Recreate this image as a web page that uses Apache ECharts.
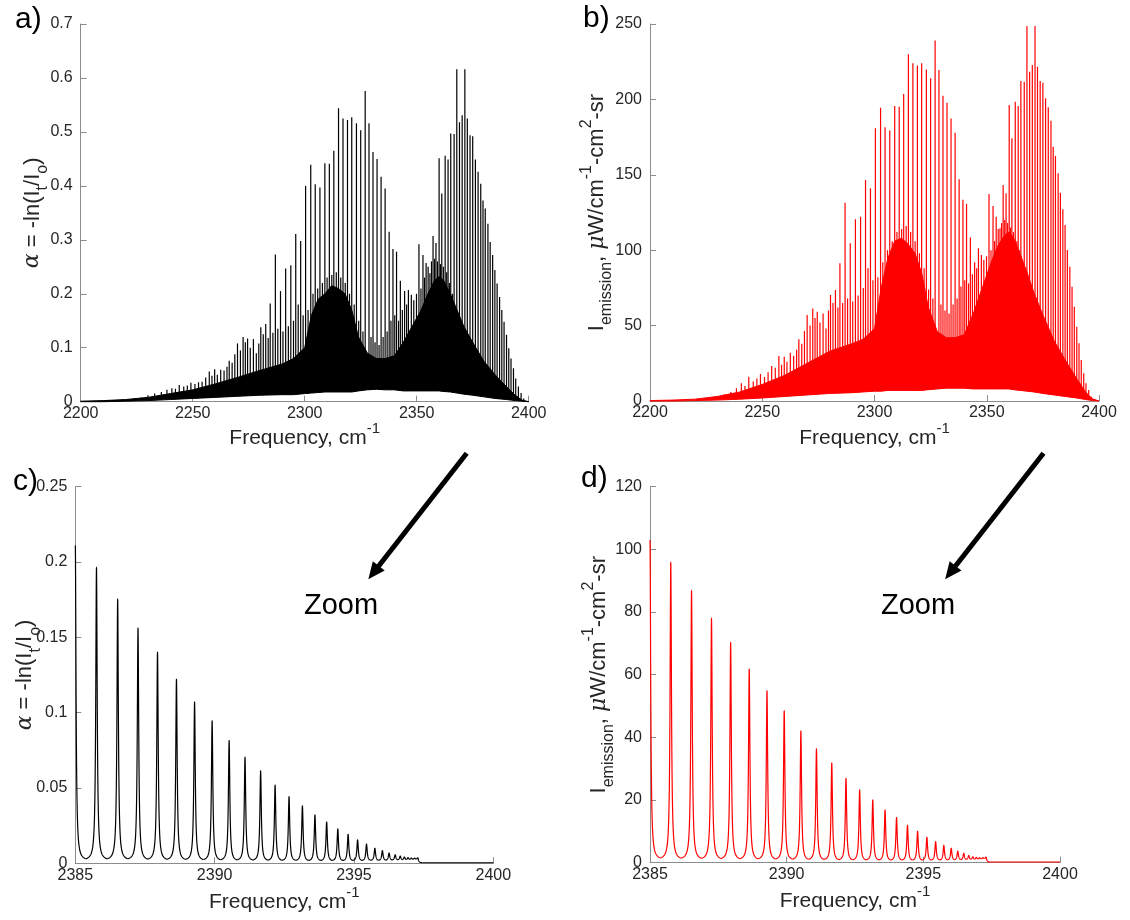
<!DOCTYPE html>
<html><head><meta charset="utf-8">
<script src="https://cdn.jsdelivr.net/npm/echarts@6/dist/echarts.min.js"></script>
<style>html,body{margin:0;padding:0;background:#fff}#chart{width:1130px;height:920px}</style>
</head><body><div id="chart"></div>
<script>
// ---------------- DATA ----------------
// Panels a / b : strong rotational lines (cm-1) and their heights
const strongX = [2284.6,2286.9,2289.2,2291.5,2293.8,2296.0,2298.2,2300.4,2302.7,2304.7,2306.8,2309.0,2311.0,2313.0,2315.1,2317.1,2319.1,2321.0,2323.1,2325.0,2327.0,2328.7,2330.5,2332.3,2334.1,2335.9,2337.7,2339.4,2341.0,2342.7,2344.6,2346.3,2347.6,2348.7,
  2351.0,2352.8,2354.2,2355.9,2357.3,2358.6,2360.0,2361.2,2362.7,2364.0,2365.2,2366.7,2367.9,2369.1,2370.3,2371.5,2372.6,2373.8,2375.0,2376.2,2377.4,2378.6,2379.6,2380.6,2381.8,2382.8,2383.9,2384.9,2385.9,2387.0,2388.0,2389.0,2390.1,2391.1,2392.1,2393.2,2394.2,2395.4,2396.6,2397.8];
const aStrongY = [0.182,0.273,0.205,0.247,0.253,0.311,0.298,0.400,0.439,0.403,0.397,0.442,0.441,0.465,0.544,0.525,0.522,0.527,0.516,0.503,0.576,0.516,0.463,0.450,0.417,0.395,0.315,0.283,0.278,0.224,0.205,0.207,0.198,0.188,
  0.292,0.272,0.257,0.238,0.307,0.294,0.451,0.386,0.456,0.449,0.497,0.496,0.616,0.518,0.531,0.616,0.525,0.494,0.492,0.449,0.426,0.404,0.373,0.358,0.330,0.296,0.272,0.244,0.219,0.194,0.170,0.148,0.124,0.099,0.080,0.062,0.043,0.028,0.016,0.006];
const bStrongY = [91.3,131.5,104.6,120.5,122.2,146.6,141.0,180.8,194.5,181.5,179.3,195.6,195.2,203.6,229.9,223.9,222.4,223.9,219.9,214.0,239.0,219.5,202.5,197.8,187.4,177.9,147.0,133.5,130.8,108.5,92,101.3,96.8,93.5,
  137.3,129.3,122.2,114.5,143.2,137.7,196.3,174.2,198.5,195.6,212.2,211.7,248.7,218.4,222.8,248.7,221.7,212.2,211.1,200.7,194.8,185.9,168.6,162.5,151.0,138.1,127.1,116.7,100.1,89.1,75.8,62.5,49.3,38.3,27.2,18.4,11.7,7.3,2.9,0.7];
// weaker lines on the low-frequency side
const leftX = [2224,2227,2230,2233,2236,2238.5,2240.7,2242.3,2244.0,2246.0,2247.6,2249.2,2251.0,2252.6,2254.2,2255.8,2257.4,2258.6,2259.8,2261.0,2262.5,2264.0,2265.3,2266.3,2267.6,2268.8,2270.0,2271.3,2272.5,2273.5,2274.5,2275.7,2277.1,2278.4,2279.5,2280.4,2281.5,2282.6,2283.7,2285.8,2288.0,2290.3,2292.7,2295.0,2297.1,2299.3];
const aLeftY = [0.006,0.008,0.012,0.015,0.018,0.022,0.025,0.024,0.031,0.028,0.030,0.035,0.033,0.036,0.037,0.045,0.056,0.048,0.060,0.050,0.059,0.058,0.065,0.076,0.072,0.088,0.108,0.095,0.120,0.110,0.117,0.100,0.116,0.090,0.108,0.138,0.125,0.144,0.118,0.128,0.135,0.130,0.140,0.150,0.180,0.160];
const bLeftY = [1.5,2,3,4.5,6,8.5,11.7,10,16.1,13,15,17.9,16,19,23.2,22,29.8,24,29.4,26,32,30,34,40.9,38,46.4,57,50,61.4,55,59.2,52,58.1,48,60,70.3,65,73.6,62,65,68,66,70,75,88,80];
// hot-band lines between the strong lines
const midX = [2301.5,2303.7,2305.8,2307.9,2310.0,2312.1,2314.1,2316.1,2318.1,2320.0,2322.1,2324.1,2326.0,2329.6,2331.4,2333.2,2335.0,2336.8,2338.5,2340.2,2341.9,2343.6,2345.5,2349.9,2351.9,2353.5,2355.1,2356.6,2358.0,2359.3,2360.6,2361.9,2363.4,2364.6,2366.0];
const aMidY = [0.17,0.2,0.21,0.22,0.23,0.235,0.24,0.23,0.22,0.2,0.18,0.15,0.13,0.12,0.11,0.105,0.12,0.13,0.15,0.16,0.15,0.17,0.18,0.2,0.21,0.23,0.25,0.26,0.265,0.26,0.255,0.25,0.24,0.22,0.2];
const bMidY = [82,92,100,106,112,114,116,112,106,98,88,74,68,64,60,58,64,68,76,80,78,84,88,96,100,106,114,118,120,118,115,112,106,100,92];
// unresolved dense region: valley floor and top of the solid band
const envX = [2200,2210,2220,2230,2240,2250,2260,2270,2280,2290,2295,2300,2303,2306,2309,2312,2315,2318,2321,2324,2328,2332,2336,2340,2344,2348,2352,2355,2358,2360,2362,2365,2368,2371,2375,2380,2385,2390,2394,2397,2400];
const aTop = [0.001,0.002,0.004,0.008,0.015,0.022,0.033,0.045,0.058,0.07,0.08,0.1,0.16,0.19,0.2,0.215,0.21,0.2,0.17,0.12,0.09,0.08,0.08,0.085,0.11,0.14,0.17,0.2,0.225,0.232,0.225,0.2,0.17,0.14,0.11,0.075,0.05,0.028,0.012,0.003,0];
const aFloor = [0,0,0.001,0.002,0.004,0.006,0.008,0.01,0.012,0.013,0.013,0.015,0.016,0.017,0.018,0.018,0.018,0.018,0.018,0.02,0.022,0.023,0.022,0.022,0.02,0.02,0.02,0.02,0.02,0.02,0.019,0.018,0.016,0.014,0.012,0.009,0.006,0.004,0.002,0.001,0];
const bTop = [0.3,0.6,1.2,3,6,11,17,25,33,38,41,48,75,95,106,108,104,98,85,62,46,42,42,44,58,75,92,103,110,112,108,97,85,72,57,40,27,15,6,1.5,0];
const bFloor = [0,0,0.3,0.6,1.2,2,3,4,5,5.5,6,6.5,6.5,7,7,7,7,7,7,7.5,8,8.5,8.5,8.5,8,8,8,8,8,8,7.5,7,6.5,6,5,4,3,2,1,0.3,0];

// Panels c / d : zoom 2385-2400 cm-1, line centres, peak heights, valley levels
const zoomX = [2385.0,2385.76,2386.52,2387.25,2387.95,2388.63,2389.28,2389.91,2390.52,2391.09,2391.65,2392.17,2392.67,2393.15,2393.60,2394.02,2394.42,2394.79,2395.13,2395.45,2395.75,2396.02,2396.26,2396.48,2396.66,2396.81,2396.94,2397.06,2397.18,2397.29];
const cPeak = [0.211,0.196,0.175,0.156,0.140,0.122,0.107,0.0945,0.0814,0.0704,0.0613,0.0518,0.0442,0.0381,0.0321,0.0274,0.0228,0.0192,0.0155,0.0128,0.0100,0.0084,0.0068,0.0057,0.0048,0.0042,0.0038,0.0035,0.0034,0.0037];
const cValley = [0.0030,0.0030,0.0030,0.0028,0.0027,0.0026,0.0025,0.0024,0.0023,0.0022,0.0021,0.0020,0.0020,0.0019,0.0019,0.0019,0.0019,0.0019,0.0019,0.0020,0.0020,0.0021,0.0022,0.0023,0.0024,0.0025,0.0026,0.0027,0.0028,0.0004];
const dPeak = [103,95.7,86.7,77.9,70.2,61.7,54.8,48.4,42.0,36.3,31.8,26.9,23.2,20.0,16.8,14.4,11.9,10.0,8.1,6.7,5.5,4.6,3.7,3.0,2.3,1.9,1.7,1.6,1.6,1.8];
const dValley = [1.5,1.45,1.4,1.35,1.3,1.25,1.2,1.15,1.1,1.05,1.0,0.95,0.9,0.9,0.85,0.85,0.85,0.85,0.85,0.9,0.9,0.95,1.0,1.05,1.1,1.15,1.2,1.25,1.3,0.2];
const zoomTailX = [2397.45, 2400];
const cTail = [0.0004, 0.0004];
const dTail = [0.2, 0.2];

// tick settings
const wideTicks = {min: 2200, max: 2400, interval: 50};
const zoomTicks = {min: 2385, max: 2400, interval: 5};
const aTicks = {min: 0, max: 0.7, interval: 0.1};
const bTicks = {min: 0, max: 250, interval: 50};
const cTicks = {min: 0, max: 0.25, interval: 0.05};
const dTicks = {min: 0, max: 120, interval: 20};

// ---------------- RENDERING ----------------
const FONT = "'Liberation Sans', Arial, Helvetica, sans-serif";
const AX = '#8c8c8c', TXT = '#262626';
const BLACK = '#000000', RED = '#ff0000';
const PEAK_HWHM = 0.03;

function interp(xs, ys, x) {
  if (x <= xs[0]) return ys[0];
  for (let i = 1; i < xs.length; i++) {
    if (x <= xs[i]) { const t = (x - xs[i-1]) / (xs[i] - xs[i-1]); return ys[i-1] + t * (ys[i] - ys[i-1]); }
  }
  return ys[ys.length - 1];
}
const pairs = (xs, ys) => xs.map((x, i) => [x, ys[i]]);

const RICH_X = {
  m: {fontSize: 21, lineHeight: 34, fontFamily: FONT, color: TXT},
  sup: {fontSize: 15, lineHeight: 15, fontFamily: FONT, color: TXT, verticalAlign: 'top'}
};
const RICH_Y = {
  m: {fontSize: 22, lineHeight: 36, fontFamily: FONT, color: TXT},
  g: {fontSize: 22, lineHeight: 36, fontFamily: "'DejaVu Serif', serif", fontStyle: 'italic', color: TXT},
  sub: {fontSize: 16, lineHeight: 16, fontFamily: FONT, color: TXT, verticalAlign: 'bottom'},
  sup: {fontSize: 16, lineHeight: 16, fontFamily: FONT, color: TXT, verticalAlign: 'top'}
};
const xName = '{m|Frequency, cm}{sup|-1}';
const alphaName = '{g|α}{m| = -ln(I}{sub|t}{m|/I}{sub|o}{m|)}';
const emisName = '{m|I}{sub|emission}{m|, }{g|μ}{m|W/cm}{sup|-1}{m|-cm}{sup|2}{m|-sr}';

const fmt = v => String(parseFloat(Number(v).toFixed(4)));
function axisCommon(t) {
  return {
    type: 'value', min: t.min, max: t.max, interval: t.interval,
    nameMoveOverlap: false,
    axisLine: {show: true, onZero: false, lineStyle: {color: AX, width: 1}},
    axisTick: {show: true, inside: true, length: 6, lineStyle: {color: AX, width: 1}},
    axisLabel: {color: TXT, fontSize: 16, fontFamily: FONT, formatter: fmt},
    splitLine: {show: false}
  };
}
function xAx(gi, t, gap) {
  const a = axisCommon(t);
  a.gridIndex = gi; a.axisLabel.margin = 4;
  a.name = xName; a.nameLocation = 'middle'; a.nameGap = gap;
  a.nameTextStyle = {rich: RICH_X};
  return a;
}
function yAx(gi, t, name, gap) {
  const a = axisCommon(t);
  a.gridIndex = gi; a.axisLabel.margin = 8;
  a.name = name; a.nameLocation = 'middle'; a.nameRotate = 90; a.nameGap = gap;
  a.nameTextStyle = {rich: RICH_Y};
  return a;
}

function bandSeries(gi, floorY, topY, color) {
  return {
    type: 'custom', xAxisIndex: gi, yAxisIndex: gi, coordinateSystem: 'cartesian2d',
    encode: {x: 0, y: 1}, data: [[envX[0], floorY[0]]], silent: true, z: 2,
    renderItem: function (params, api) {
      const pts = [];
      for (let i = 0; i < envX.length; i++) pts.push(api.coord([envX[i], topY[i]]));
      for (let i = envX.length - 1; i >= 0; i--) pts.push(api.coord([envX[i], floorY[i]]));
      return {type: 'polygon', shape: {points: pts}, style: {fill: color, stroke: color, lineWidth: 1}};
    }
  };
}
function spikeSeries(gi, data, floorY, color, lw) {
  return {
    type: 'custom', xAxisIndex: gi, yAxisIndex: gi, coordinateSystem: 'cartesian2d',
    encode: {x: 0, y: 1}, data: data, silent: true, z: 3,
    renderItem: function (params, api) {
      const x = api.value(0), y = api.value(1);
      const base = interp(envX, floorY, x);
      const p0 = api.coord([x, base]), p1 = api.coord([x, y]);
      return {type: 'line', shape: {x1: p0[0], y1: p0[1], x2: p1[0], y2: p1[1]}, style: {stroke: color, lineWidth: lw}};
    }
  };
}
function peakSeries(gi, X, H, V, color) {
  const G2 = PEAK_HWHM * PEAK_HWHM;
  const g = d => G2 / (d * d + G2);
  const N = 40;
  return {
    type: 'custom', xAxisIndex: gi, yAxisIndex: gi, coordinateSystem: 'cartesian2d',
    encode: {x: 0, y: 1}, data: pairs(X, H), silent: true, z: 3,
    renderItem: function (params, api) {
      const i = params.dataIndex, x0 = X[i], h = H[i], n = X.length;
      const pts = [];
      if (i > 0) {
        const m = (x0 - X[i-1]) / 2, v = V[i-1], gm = g(m);
        for (let k = N; k >= 1; k--) {
          const d = m * Math.pow(k / N, 2);
          pts.push(api.coord([x0 - d, v + (h - v) * (g(d) - gm) / (1 - gm)]));
        }
      }
      pts.push(api.coord([x0, h]));
      const xr = i < n - 1 ? (x0 + X[i+1]) / 2 : zoomTailX[0];
      const m = xr - x0, v = V[i], gm = g(m);
      for (let k = 1; k <= N; k++) {
        const d = m * Math.pow(k / N, 2);
        pts.push(api.coord([x0 + d, v + (h - v) * (g(d) - gm) / (1 - gm)]));
      }
      return {type: 'polyline', shape: {points: pts}, style: {stroke: color, fill: 'none', lineWidth: 1.2}};
    }
  };
}
function tailSeries(gi, ys, color) {
  return {type: 'line', xAxisIndex: gi, yAxisIndex: gi, data: pairs(zoomTailX, ys), showSymbol: false,
    lineStyle: {color: color, width: 1.1}, silent: true, z: 3};
}

const aSpikes = pairs(leftX, aLeftY).concat(pairs(midX, aMidY), pairs(strongX, aStrongY));
const bSpikes = pairs(leftX, bLeftY).concat(pairs(midX, bMidY), pairs(strongX, bStrongY));

function arrow(x0, y0, x1, y1) {
  const dx = x1 - x0, dy = y1 - y0, L = Math.hypot(dx, dy);
  const ux = dx / L, uy = dy / L, px = -uy, py = ux;
  const hl = 17, hw = 7.5;
  const bx = x1 - hl * ux, by = y1 - hl * uy;
  return [
    {type: 'line', shape: {x1: x0, y1: y0, x2: bx + 2 * ux, y2: by + 2 * uy}, style: {stroke: '#000', lineWidth: 5}},
    {type: 'polygon', shape: {points: [[x1, y1], [bx + hw * px, by + hw * py], [bx - hw * px, by - hw * py]]}, style: {fill: '#000'}}
  ];
}
const label = (t, x, y) => ({type: 'text', x: x, y: y, style: {text: t, fontSize: 30, fontFamily: FONT, fill: '#000', align: 'left', verticalAlign: 'middle'}});
const zoomText = (x, y) => ({type: 'text', x: x, y: y, style: {text: 'Zoom', fontSize: 29, fontFamily: FONT, fill: '#000', align: 'center', verticalAlign: 'middle'}});

const option = {
  animation: false,
  backgroundColor: '#ffffff',
  textStyle: {fontFamily: FONT},
  grid: [
    {left: 80.7, top: 24, width: 448, height: 377.7},
    {left: 650, top: 24, width: 449, height: 377},
    {left: 75.3, top: 486.7, width: 418, height: 376.6},
    {left: 650, top: 486.7, width: 410, height: 376}
  ],
  xAxis: [xAx(0, wideTicks, 20), xAx(1, wideTicks, 20), xAx(2, zoomTicks, 22), xAx(3, zoomTicks, 22)],
  yAxis: [yAx(0, aTicks, alphaName, 30), yAx(1, bTicks, emisName, 35), yAx(2, cTicks, alphaName, 32), yAx(3, dTicks, emisName, 33)],
  series: [
    bandSeries(0, aFloor, aTop, BLACK),
    spikeSeries(0, aSpikes, aFloor, BLACK, 1.2),
    bandSeries(1, bFloor, bTop, RED),
    spikeSeries(1, bSpikes, bFloor, RED, 1.2),
    peakSeries(2, zoomX, cPeak, cValley, BLACK),
    tailSeries(2, cTail, BLACK),
    peakSeries(3, zoomX, dPeak, dValley, RED),
    tailSeries(3, dTail, RED)
  ],
  graphic: [
    label('a)', 15, 20), label('b)', 583, 19), label('c)', 13, 482), label('d)', 581, 479),
    ...arrow(466.7, 453.3, 368.3, 579.3),
    ...arrow(1043.5, 453.3, 945.1, 579.3),
    zoomText(341, 606), zoomText(918, 606)
  ]
};
const chart = echarts.init(document.getElementById('chart'), null, {renderer: 'canvas'});
chart.setOption(option);
</script></body></html>
